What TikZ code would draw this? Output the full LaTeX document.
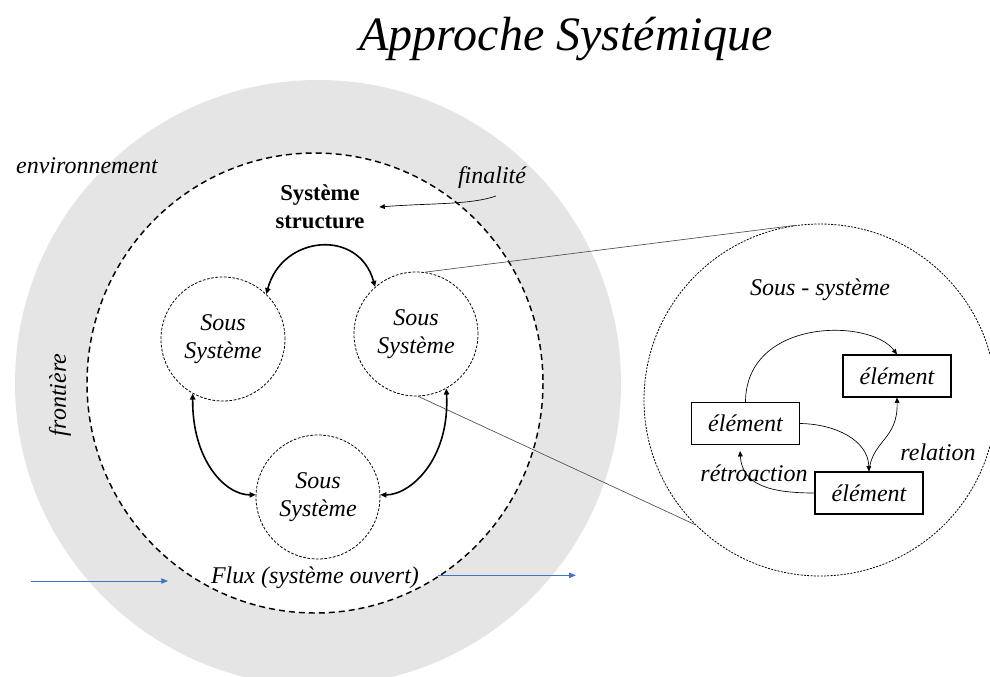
\documentclass[tikz,border=0pt]{standalone}
\usepackage{fontspec}
\setmainfont{Liberation Serif}
\usetikzlibrary{arrows.meta}
\definecolor{envgrey}{RGB}{229,229,229}
\definecolor{flowblue}{RGB}{68,114,196}
\definecolor{linkgrey}{RGB}{80,80,80}
\begin{document}
\begin{tikzpicture}[x=0.75pt,y=-0.75pt,
  txt/.style={font=\fontsize{18}{22}\selectfont\itshape, inner sep=0pt},
  sub/.style={circle, draw, dash pattern=on 2pt off 1.2pt, line width=0.6pt, minimum size=93pt, inner sep=0pt, align=center, font=\fontsize{18}{21.5}\selectfont\itshape, fill=white},
  elem/.style={draw, line width=0.9pt, minimum width=81pt, minimum height=31.5pt, inner sep=0pt, font=\fontsize{18}{22}\selectfont\itshape, fill=white},
  bigarrow/.style={line width=1.2pt, {Triangle[length=4.5pt,width=4pt]}-{Triangle[length=4.5pt,width=4pt]}},
  thinarrow/.style={line width=0.5pt, -{Triangle[length=4pt,width=3.5pt]}},
  link/.style={linkgrey, line width=0.5pt},
  flow/.style={flowblue, line width=0.6pt, -{Triangle[length=5pt,width=4pt]}}
]
\useasboundingbox (0,0) rectangle (990,676);
\fill[white] (0,0) rectangle (990,676);
% environment and boundary
\fill[envgrey] (318,383) circle [radius=303];
\filldraw[fill=white, line width=1.1pt, dash pattern=on 4.5pt off 3pt] (315,383) ellipse [x radius=228, y radius=230];

% title
\node[font=\fontsize{36}{40}\selectfont\itshape, anchor=base, inner sep=0pt] (title) at (566,50) {Approche Systémique};

% labels
\node[txt] (env) at (87,166) {environnement};
\node[txt] (fin) at (492,178) {finalité};
\node[txt, rotate=90] (front) at (60,395) {frontière};
\node[font=\fontsize{17}{21}\selectfont\bfseries, align=center, inner sep=0pt] (sys) at (320,207) {Système\\structure};

% sub-systems
\node[sub] (L) at (223,339) {Sous\\Système};
\node[sub] (R) at (416,334) {Sous\\Système};
\node[sub] (B) at (318,497) {Sous\\Système};

\node[txt] (flux) at (315,578) {Flux (système ouvert)};

% zoomed sub-system
\node[circle, draw, dash pattern=on 1.5pt off 1pt, line width=0.6pt, minimum size=264pt, inner sep=0pt, fill=white] (Z) at (820,400) {};
\draw[link] (R.82) -- (Z.98);
\draw[link] (R.272) -- (Z.225);

% arrows between sub-systems
\draw[bigarrow] (L.46) .. controls (282,235) and (359,228) .. (R.131);
\draw[bigarrow] (L.241) .. controls (192,460) and (225,495) .. (B.178);
\draw[bigarrow] (R.299) .. controls (450,460) and (410,495) .. (B.2);

% finalite arrow
\coordinate (fa) at (496,196);
\draw[thinarrow] (fa) .. controls (470,205) and (430,203) .. ([xshift=11pt]sys.east);

% elements
\node[txt] (ss) at (820,290) {Sous - système};
\node[elem] (e1) at (897,376) {élément};
\node[elem] (e2) at (745.5,423.5) {élément};
\node[elem] (e3) at (869,493) {élément};
\draw[thinarrow] (e2.north) .. controls (746,318) and (870,318) .. (e1.north);
\draw[thinarrow] (e2.east) .. controls (835,424) and (868,440) .. (e3.north);
\draw[thinarrow] (e3.north) .. controls (872,440) and (898,440) .. (e1.south);
\draw[thinarrow, shorten >=4.5pt] (e3.west) .. controls (770,493) and (742,485) .. (e2.255);
\node[txt] (rel) at (938,452) {relation};
\node[txt] (retro) at (754,473) {rétroaction};

% flows
\coordinate (in0) at (31,581);
\coordinate (in1) at (168,581);
\draw[flow] (in0) -- (in1);
\draw[flow] ([xshift=14pt,yshift=2pt]flux.east) -- +(138,0);
\end{tikzpicture}
\end{document}
